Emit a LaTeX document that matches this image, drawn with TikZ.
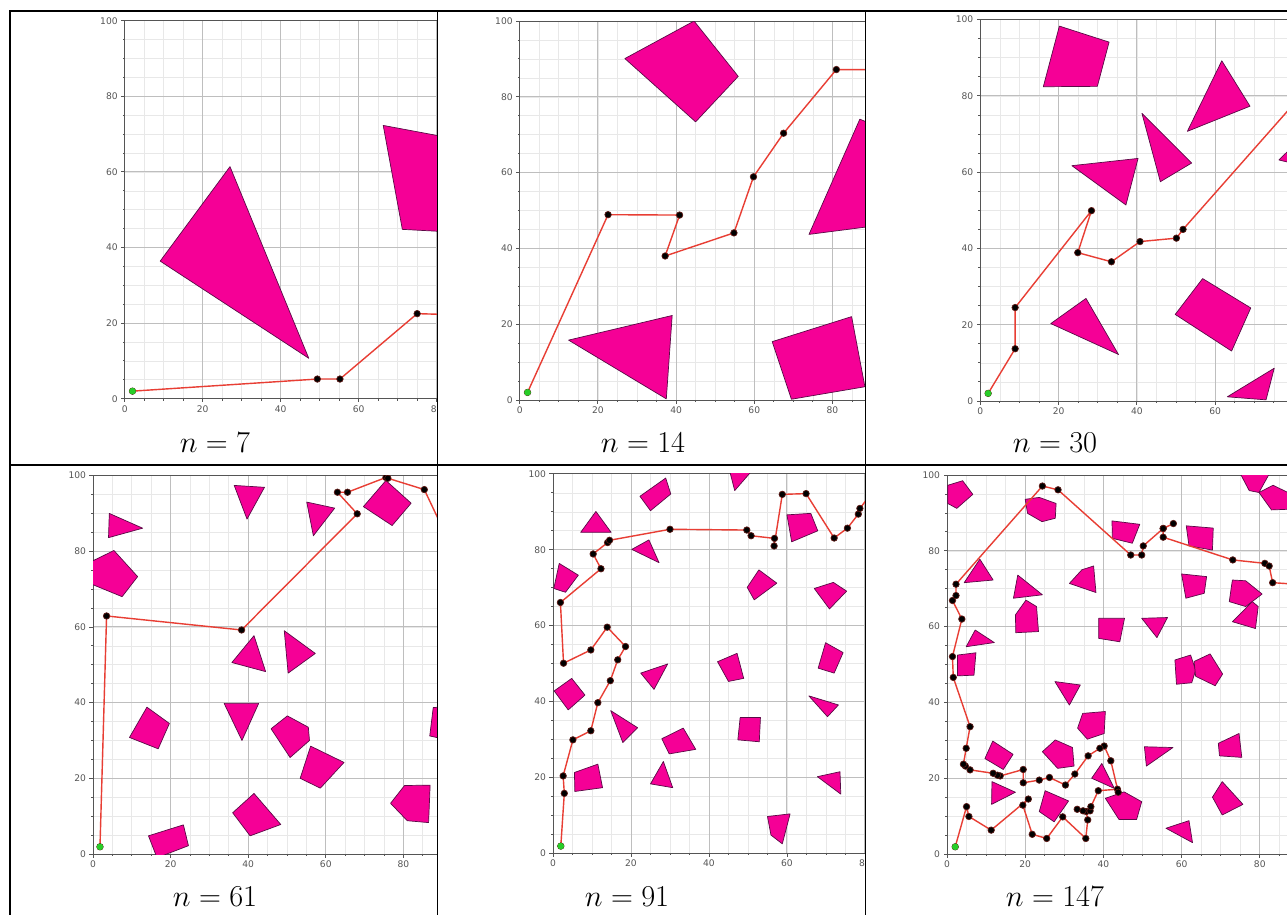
\documentclass[tikz,border=0pt]{standalone}
\usepackage{fontspec}
\setsansfont{DejaVu Sans}
\usepackage{tikz}
\usetikzlibrary{positioning}
\definecolor{obstaclepink}{RGB}{245, 0, 150}
\definecolor{obstacleedge}{RGB}{90, 10, 70}
\definecolor{routered}{RGB}{232, 62, 52}
\definecolor{startgreen}{RGB}{40, 205, 40}
\definecolor{minorgray}{RGB}{232, 232, 232}
\definecolor{majorgray}{RGB}{190, 190, 190}
\definecolor{axisgray}{RGB}{85, 85, 85}

% frame of one matplotlib plot, in data units 0..100
\newcommand\plotaxes{%
  \begin{scope}
    \clip (0,0) rectangle (100,100);
    \foreach \g in {5,10,...,95} {
      \draw[minorgrid] (\g,0) -- (\g,100);
      \draw[minorgrid] (0,\g) -- (100,\g);
    }
    \foreach \g in {20,40,60,80} {
      \draw[majorgrid] (\g,0) -- (\g,100);
      \draw[majorgrid] (0,\g) -- (100,\g);
    }
  \end{scope}
  \draw[axisline] (100,100) -- (0,100) -- (0,0) -- (100,0);
  \foreach \t in {5,10,...,95} {
    \draw[axisline] (0,\t) -- ++(-1.2pt,0pt);
    \draw[axisline] (\t,0) -- ++(0pt,-1.2pt);
  }
  \foreach \t in {0,20,...,100} {
    \draw[axisline] (0,\t) -- ++(-2pt,0pt);
    \draw[axisline] (\t,0) -- ++(0pt,-2pt);
    \node[ticklabel, anchor=east, xshift=-3.8pt] (ytick\t) at (0,\t) {\t};
    \node[ticklabel, anchor=north, yshift=-3.6pt] (xtick\t) at (\t,0) {\t};
  }
}

\begin{document}
\begin{tikzpicture}[x=0.02cm, y=-0.02cm,
    minorgrid/.style={minorgray, line width=0.35pt},
    majorgrid/.style={majorgray, line width=0.55pt},
    axisline/.style={axisgray, line width=0.5pt},
    ticklabel/.style={inner sep=0pt, text=axisgray, font=\sffamily\fontsize{5.2}{6}\selectfont},
    obstacle/.style={fill=obstaclepink, draw=obstacleedge, line width=0.4pt, line join=round},
    route/.style={draw=routered, line width=0.8pt, mark=*, mark size=1.85pt,
      mark options={fill=black, draw=black!60!routered, line width=0.4pt}},
    startpoint/.style={fill=startgreen},
    caption/.style={inner sep=0pt, font=\fontsize{19}{22}\selectfont},
    cellline/.style={black, line width=1.1pt}]
    \useasboundingbox (0,0) rectangle (1287,915);
    \fill[white] (0,0) rectangle (1287,915);

    % Panel n = 7
    \begin{scope}
      \clip (10,11) rectangle (437.5,465);
      \begin{scope}[shift={(124.7,398.7)}, x=0.078cm, y=0.0756cm]
        \plotaxes
        \begin{scope}
          \clip (0,0) rectangle (100,100);
          \draw[obstacle] plot coordinates {(9.1,36.4) (27,61.4) (47.2,10.7)} -- cycle;
          \draw[obstacle] plot coordinates {(66.3,72.3) (84,68.9) (84,44.1) (71.2,44.8)} -- cycle;
          \draw[route] plot coordinates {(2,2) (49.4,5.2) (55.2,5.2) (75,22.5) (92,22)};
          \fill[startpoint] (2,2) circle (1.9pt);
        \end{scope}
      \end{scope}
    \end{scope}
    \node[caption] (cap7) at (215,443) {$n = 7$};

    % Panel n = 14
    \begin{scope}
      \clip (437.5,11) rectangle (865.5,465);
      \begin{scope}[shift={(519.7,400)}, x=0.0782cm, y=0.0758cm]
        \plotaxes
        \begin{scope}
          \clip (0,0) rectangle (100,100);
          \draw[obstacle] plot coordinates {(26.9,90.1) (44.6,100) (55.9,85.4) (45,73.4)} -- cycle;
          \draw[obstacle] plot coordinates {(87,74.1) (74,43.7) (95,46.5) (92,72)} -- cycle;
          \draw[obstacle] plot coordinates {(12.5,15.8) (39,22.3) (37.5,0.3)} -- cycle;
          \draw[obstacle] plot coordinates {(64.6,15.4) (84.9,22) (88.3,3.5) (69.5,0.2)} -- cycle;
          \draw[route] plot coordinates {(2,2) (22.6,48.9) (40.9,48.8) (37.2,38) (54.8,44.1)
            (59.8,58.9) (67.5,70.4) (81,87.2) (95,87.2)};
          \fill[startpoint] (2,2) circle (1.9pt);
        \end{scope}
      \end{scope}
    \end{scope}
    \node[caption] (cap14) at (643,443) {$n = 14$};

    % Panel n = 30
    \begin{scope}
      \clip (865.5,11) rectangle (1287,465);
      \begin{scope}[shift={(980.3,401)}, x=0.0783cm, y=0.0763cm]
        \plotaxes
        \begin{scope}
          \clip (0,0) rectangle (100,100);
          \draw[obstacle] plot coordinates {(20.2,98.3) (32.9,94.1) (29.9,82.5) (16.1,82.4)} -- cycle;
          \draw[obstacle] plot coordinates {(61.7,89.2) (68.9,77.3) (52.9,70.7)} -- cycle;
          \draw[obstacle] plot coordinates {(41.3,75.4) (54,62.4) (46,57.5)} -- cycle;
          \draw[obstacle] plot coordinates {(23.4,61.7) (40.3,63.6) (37.2,51.4)} -- cycle;
          \draw[obstacle] plot coordinates {(76.3,63.2) (85,72) (85,61)} -- cycle;
          \draw[obstacle] plot coordinates {(18,20.3) (27,26.9) (35.3,12.2)} -- cycle;
          \draw[obstacle] plot coordinates {(56.8,32.1) (69.1,24.4) (64.2,13.1) (49.8,22.7)} -- cycle;
          \draw[obstacle] plot coordinates {(63.1,1.1) (75.1,8.6) (73,0.3)} -- cycle;
          \draw[route] plot coordinates {(2,2) (8.9,13.7) (8.9,24.5) (28.4,49.9) (24.9,38.9)
            (33.5,36.5) (40.8,41.8) (50.1,42.7) (51.8,45) (90,89.4)};
          \fill[startpoint] (2,2) circle (1.9pt);
        \end{scope}
      \end{scope}
    \end{scope}
    \node[caption] (cap30) at (1055,443) {$n = 30$};

    % Panel n = 61
    \begin{scope}
      \clip (10,465) rectangle (437.5,915);
      \begin{scope}[shift={(93,854)}, x=0.0776cm, y=0.0757cm]
        \plotaxes
        \begin{scope}
          \clip (0,0) rectangle (100,100);
          \draw[obstacle] plot coordinates {(4.2,90) (12.8,86.1) (4,83.6)} -- cycle;
          \draw[obstacle] plot coordinates {(5.4,80.2) (11.5,73.3) (7.5,68) (-2,72) (-1,77)} -- cycle;
          \draw[obstacle] plot coordinates {(36.4,97.4) (44.2,96.9) (39.7,88.5)} -- cycle;
          \draw[obstacle] plot coordinates {(55.1,93) (62.3,91.4) (56.8,84.1)} -- cycle;
          \draw[obstacle] plot coordinates {(75.5,98.7) (82,92.7) (77.1,86.8) (69.7,91.8)} -- cycle;
          \draw[obstacle] plot coordinates {(35.8,50.6) (41.5,57.7) (44.5,48.2)} -- cycle;
          \draw[obstacle] plot coordinates {(49.3,59) (57.3,53) (50.3,47.8)} -- cycle;
          \draw[obstacle] plot coordinates {(13.9,38.8) (19.7,34.5) (16.8,27.8) (9.4,30.8)} -- cycle;
          \draw[obstacle] plot coordinates {(33.8,39.8) (42.7,39.8) (38.4,30)} -- cycle;
          \draw[obstacle] plot coordinates {(45.9,33.1) (50.1,36.5) (55.5,33.5) (55.8,30) (50.8,25.5)} -- cycle;
          \draw[obstacle] plot coordinates {(56.1,28.5) (64.7,24.2) (58.6,17.4) (53.4,20)} -- cycle;
          \draw[obstacle] plot coordinates {(87.7,38.7) (92,39) (92,30) (86.8,31.2)} -- cycle;
          \draw[obstacle] plot coordinates {(76.7,13.4) (80.3,18.1) (86.9,18.2) (86.5,8.3) (81,8.8)} -- cycle;
          \draw[obstacle] plot coordinates {(36,10.9) (41.5,16) (48.4,7.8) (40.5,4.8)} -- cycle;
          \draw[obstacle] plot coordinates {(14.3,4.8) (23.3,7.7) (24.6,2.2) (16.5,-1)} -- cycle;
          \draw[route] plot coordinates {(1.8,1.9) (3.5,62.9) (38.3,59.2) (68.1,89.9) (63,95.6)
            (65.6,95.6) (75.5,99.5) (76,99.3) (85.4,96.3) (92,82)};
          \fill[startpoint] (1.8,1.9) circle (1.9pt);
        \end{scope}
      \end{scope}
    \end{scope}
    \node[caption] (cap61) at (215,897) {$n = 61$};

    % Panel n = 91
    \begin{scope}
      \clip (437.5,465) rectangle (865.5,915);
      \begin{scope}[shift={(553,853.3)}, x=0.078cm, y=0.0759cm]
        \plotaxes
        \begin{scope}
          \clip (0,0) rectangle (100,100);
          \draw[obstacle] plot coordinates {(45,102) (52,102) (46.6,95.6)} -- cycle;
          \draw[obstacle] plot coordinates {(22.3,94.1) (28.9,98.9) (30.2,94.7) (25,90.3)} -- cycle;
          \draw[obstacle] plot coordinates {(7.1,84.6) (11,90.1) (14.9,84.6)} -- cycle;
          \draw[obstacle] plot coordinates {(20.2,80.1) (24.6,82.6) (27.2,76.6)} -- cycle;
          \draw[obstacle] plot coordinates {(60,89.2) (66.1,89.6) (67.9,85) (61.2,82.1)} -- cycle;
          \draw[obstacle] plot coordinates {(1.6,76.4) (6.5,73.3) (3.2,68.8) (0.2,69.8)} -- cycle;
          \draw[obstacle] plot coordinates {(52.8,74.7) (57.4,71.2) (51.6,66.8) (49.8,70.1)} -- cycle;
          \draw[obstacle] plot coordinates {(67,69.8) (71.9,71.4) (75.3,69.1) (70.9,64.4)} -- cycle;
          \draw[obstacle] plot coordinates {(69.9,55.5) (74.4,52.9) (72.1,47.5) (68,48.8)} -- cycle;
          \draw[obstacle] plot coordinates {(22.5,47.5) (29.4,49.9) (25.9,43.2)} -- cycle;
          \draw[obstacle] plot coordinates {(42.2,50.5) (47.2,52.7) (48.9,46.1) (45,45.3)} -- cycle;
          \draw[obstacle] plot coordinates {(0.3,42.8) (4.8,46.1) (8.2,41.7) (3.9,37.8)} -- cycle;
          \draw[obstacle] plot coordinates {(65.6,41.5) (73.2,39.1) (70.4,36)} -- cycle;
          \draw[obstacle] plot coordinates {(14.8,37.6) (21.7,33.1) (17.9,29.2)} -- cycle;
          \draw[obstacle] plot coordinates {(27.9,30.2) (33.4,33) (36.6,27.4) (29.8,26.2)} -- cycle;
          \draw[obstacle] plot coordinates {(48,35.8) (53.2,35.8) (52.9,29.4) (47.4,29.9)} -- cycle;
          \draw[obstacle] plot coordinates {(5.5,21.3) (11.5,23.5) (12.7,17.3) (5.6,16.3)} -- cycle;
          \draw[obstacle] plot coordinates {(28.3,24.2) (30.7,17.3) (25,18.3)} -- cycle;
          \draw[obstacle] plot coordinates {(67.8,20.2) (73.6,21.5) (73.8,15.6)} -- cycle;
          \draw[obstacle] plot coordinates {(55,9.7) (60.8,10.4) (58.8,2.5) (55.9,4.8)} -- cycle;
          \draw[route] plot coordinates {(2,1.9) (2.9,15.8) (2.6,20.4) (5.1,29.9) (9.7,32.3)
            (11.5,39.7) (14.7,45.5) (16.6,51) (18.6,54.5) (13.9,59.6) (9.7,53.6) (2.7,50.1)
            (1.9,66.1) (12.3,75) (10.3,78.9) (14,81.9) (14.5,82.5) (30,85.4) (49.7,85.2)
            (50.8,83.7) (56.8,83) (56.7,81) (58.8,94.6) (64.9,94.8) (72.1,83.1) (75.5,85.7)
            (78.3,89.4) (78.7,90.9) (84,98)};
          \fill[startpoint] (2,1.9) circle (1.9pt);
        \end{scope}
      \end{scope}
    \end{scope}
    \node[caption] (cap91) at (627,897) {$n = 91$};

    % Panel n = 147
    \begin{scope}
      \clip (865.5,465) rectangle (1287,915);
      \begin{scope}[shift={(947,854)}, x=0.0782cm, y=0.0758cm]
        \plotaxes
        \begin{scope}
          \clip (0,0) rectangle (100,100);
          \draw[obstacle] plot coordinates {(0.2,97.3) (4,98.5) (6.6,94.9) (2.5,91.2) (0.2,92.5)} -- cycle;
          \draw[obstacle] plot coordinates {(20,93.6) (23.6,94.1) (27.9,92.5) (27.7,88.6) (24.3,87.7) (20.6,89.9)} -- cycle;
          \draw[obstacle] plot coordinates {(42.2,87.9) (49.3,87) (47.4,82) (42.3,83.3)} -- cycle;
          \draw[obstacle] plot coordinates {(61.2,86.6) (68.1,86) (67.9,80.2) (61.9,81.3)} -- cycle;
          \draw[obstacle] plot coordinates {(74.7,101) (82.8,101) (79.8,95.4) (77.3,95.9)} -- cycle;
          \draw[obstacle] plot coordinates {(79.8,95.4) (83.4,97.3) (88,95) (88,91) (83,90.8)} -- cycle;
          \draw[obstacle] plot coordinates {(4.4,71.6) (8.4,77.8) (11.8,72.3)} -- cycle;
          \draw[obstacle] plot coordinates {(18.1,73.6) (24.4,68.4) (17,67.5)} -- cycle;
          \draw[obstacle] plot coordinates {(17.5,63.1) (20.2,67) (22.9,65.3) (23.4,58.7) (17.6,58.4)} -- cycle;
          \draw[obstacle] plot coordinates {(31.3,71.4) (34.5,75) (37.5,76) (38.1,69)} -- cycle;
          \draw[obstacle] plot coordinates {(38.8,62.2) (45.4,62.2) (44.2,56) (38.8,56.9)} -- cycle;
          \draw[obstacle] plot coordinates {(49.8,62.2) (56.4,62.4) (53.7,57.1)} -- cycle;
          \draw[obstacle] plot coordinates {(60,73.9) (66.4,73.2) (65.8,68.8) (61.1,67.5)} -- cycle;
          \draw[obstacle] plot coordinates {(73,72.3) (76.4,72.1) (80.6,68.6) (76.4,65.3) (72.2,66.6)} -- cycle;
          \draw[obstacle] plot coordinates {(73,61.3) (78.1,66.6) (79.6,65.3) (78.9,59.5)} -- cycle;
          \draw[obstacle] plot coordinates {(4.9,54.7) (7.2,59.1) (12.1,55.8)} -- cycle;
          \draw[obstacle] plot coordinates {(2.7,52.5) (7.4,53.1) (6.9,47.2) (2.7,47)} -- cycle;
          \draw[obstacle] plot coordinates {(58.3,51.2) (62.3,52.5) (63.6,48.5) (62.6,45.2) (58.7,44.8)} -- cycle;
          \draw[obstacle] plot coordinates {(63.2,50.8) (67.3,52.8) (70.5,47.5) (68.6,44.4) (63.6,46.9)} -- cycle;
          \draw[obstacle] plot coordinates {(27.6,45.5) (34.1,44.6) (31.3,39.3)} -- cycle;
          \draw[obstacle] plot coordinates {(34.7,37.1) (40.5,37.6) (40.2,31.8) (35.9,30.3) (33.4,33.2)} -- cycle;
          \draw[obstacle] plot coordinates {(11.7,29.8) (16.9,26.3) (14.4,22.3) (9.7,25.2)} -- cycle;
          \draw[obstacle] plot coordinates {(24.4,27) (27.7,30.1) (32.1,28.1) (32.5,23.2) (28.3,22.6)} -- cycle;
          \draw[obstacle] plot coordinates {(50.5,28.3) (57.8,28.1) (51,23.2)} -- cycle;
          \draw[obstacle] plot coordinates {(69.4,29.2) (74.7,31.8) (75.4,25.5) (69.7,25.9)} -- cycle;
          \draw[obstacle] plot coordinates {(11.5,19.1) (17.5,16.3) (11.4,13.1)} -- cycle;
          \draw[obstacle] plot coordinates {(39.6,23.9) (42.8,17.3) (37,20)} -- cycle;
          \draw[obstacle] plot coordinates {(25.1,16.7) (31.1,14) (27.4,8.5) (23.6,11.2)} -- cycle;
          \draw[obstacle] plot coordinates {(40.5,14.7) (45.3,16.4) (49.8,13.8) (48.5,9.1) (44,9.1)} -- cycle;
          \draw[obstacle] plot coordinates {(67.9,15) (70.4,19.1) (75.7,13.1) (70.4,10.3)} -- cycle;
          \draw[obstacle] plot coordinates {(56,6.8) (61.9,8.8) (62.8,3)} -- cycle;
          \draw[route] plot coordinates {(2.1,1.9) (5,12.5) (5.6,9.9) (11.3,6.3) (20.8,14.5)
            (19.4,12.9) (21.8,5.2) (25.5,4.1) (29.6,9.8) (35.5,4.1) (36,9) (35.6,11.2)
            (33.3,11.8) (34.8,11.4) (36.6,11.4) (36.8,12.5) (38.7,16.7) (43.6,17.1) (43.8,16.3)
            (41.9,24.6) (40.2,28.5) (39.1,27.9) (36.1,25.9) (32.7,21.1) (30.3,18.2) (26.2,20.2)
            (23.6,19.5) (19.5,18.8) (19.5,22.3) (13.6,20.6) (12.9,20.8) (11.8,21.3) (5.9,22.2)
            (4.7,23.2) (4.2,23.7) (4.9,27.9) (5.9,33.6) (1.6,46.6) (1.4,52.1) (3.8,62)
            (1.4,66.9) (2.3,68.2) (2.3,71.2) (24.4,97.1) (28.4,96.1) (47,78.9) (49.8,78.9)
            (50.2,81.3) (55.3,85.9) (57.9,87.2) (55.3,85.9) (55.3,83.6) (73.1,77.6) (81.3,76.7)
            (82.4,76) (83.3,71.6) (92,71)};
          \fill[startpoint] (2.1,1.9) circle (1.9pt);
        \end{scope}
      \end{scope}
    \end{scope}
    \node[caption] (cap147) at (1055,897) {$n = 147$};

    % table rules
    \draw[cellline] (9,11) -- (1287,11);
    \draw[cellline] (9,465) -- (1287,465);
    \draw[cellline] (10,11) -- (10,915);
    \draw[cellline] (437.5,11) -- (437.5,915);
    \draw[cellline] (865.5,11) -- (865.5,915);
\end{tikzpicture}
\end{document}
